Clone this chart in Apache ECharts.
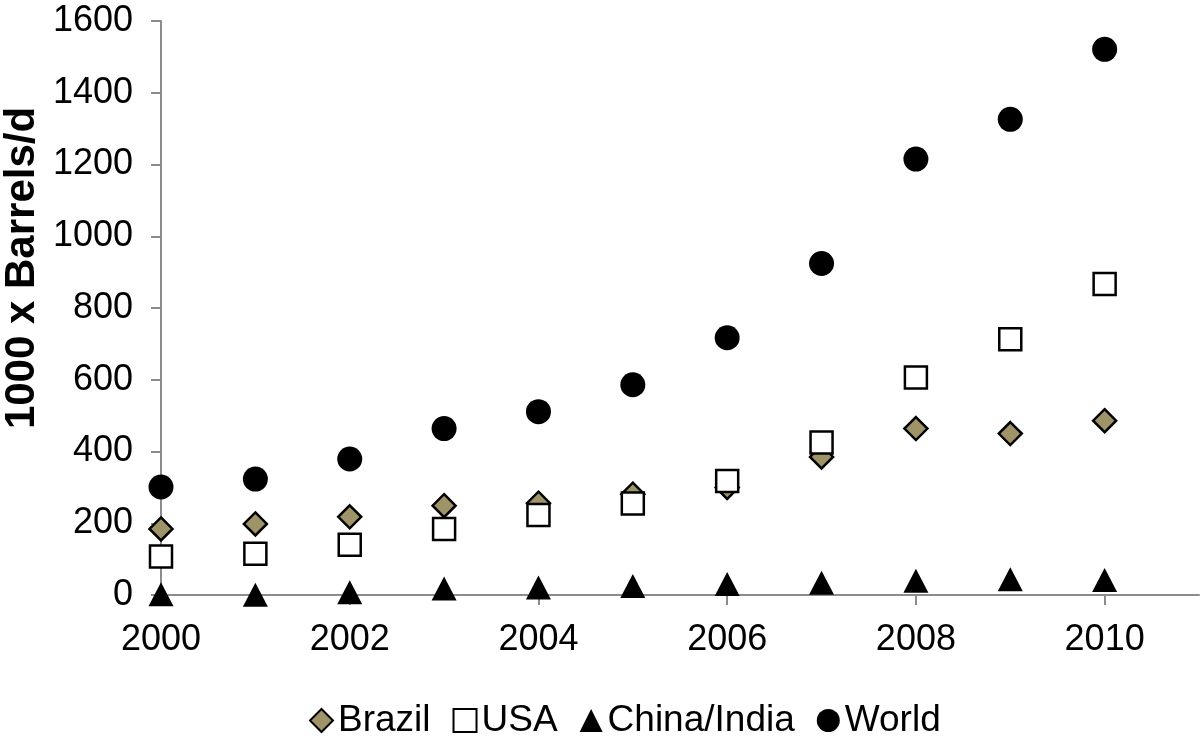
<!DOCTYPE html>
<html>
<head>
<meta charset="utf-8">
<script src="https://cdn.jsdelivr.net/npm/echarts@6/dist/echarts.min.js"></script>
<style>
html,body{margin:0;padding:0;background:#fff;}
#chart{width:1200px;height:740px;}
</style>
</head>
<body>
<div id="chart"></div>
<script>
const years = [2000, 2001, 2002, 2003, 2004, 2005, 2006, 2007, 2008, 2009, 2010];
const brazil = [184, 198, 218, 249, 256, 281, 300, 385, 464, 450, 486];
const usa = [107, 115, 140, 184, 223, 255, 318, 425, 606, 713, 867];
const chinaIndia = [2, 1, 8, 18, 21, 25, 31, 34, 40, 44, 42];
const world = [301, 323, 379, 464, 511, 586, 717, 924, 1215, 1326, 1521];
const xTicks = [2000, 2002, 2004, 2006, 2008, 2010];
const yTitle = '1000 x Barrels/d';

const FONT = '"Liberation Sans", Arial, Helvetica, sans-serif';
const pairs = arr => years.map((y, i) => [y, arr[i]]);

const chart = echarts.init(document.getElementById('chart'));
chart.setOption({
  animation: false,
  backgroundColor: '#ffffff',
  textStyle: { fontFamily: FONT },
  grid: { left: 161, right: 1, top: 21, bottom: 145, containLabel: false },
  xAxis: {
    type: 'value', min: 2000, max: 2011, interval: 1,
    axisLine: { show: true, lineStyle: { color: '#8c8c8c', width: 2 } },
    axisTick: { show: true, length: 10, customValues: xTicks, lineStyle: { color: '#8c8c8c', width: 2 } },
    axisLabel: { customValues: xTicks, margin: 27, fontSize: 36, color: '#000', fontFamily: FONT,
      formatter: v => String(v) },
    splitLine: { show: false }
  },
  yAxis: {
    type: 'value', min: 0, max: 1600, interval: 200,
    axisLine: { show: true, lineStyle: { color: '#8c8c8c', width: 2 } },
    axisTick: { show: true, length: 10, lineStyle: { color: '#8c8c8c', width: 2 } },
    axisLabel: { margin: 28, fontSize: 36, color: '#000', fontFamily: FONT,
      formatter: v => String(v) },
    splitLine: { show: false }
  },
  graphic: [{
    type: 'text', x: 22, y: 268, rotation: Math.PI / 2,
    style: { text: yTitle, font: 'bold 42px ' + FONT, fill: '#000', align: 'center', verticalAlign: 'middle' }
  }],
  legend: {
    top: 697, left: 304, itemWidth: 23, itemHeight: 23, itemGap: 22,
    textStyle: { fontSize: 37, color: '#000', fontFamily: FONT },
    data: ['Brazil', 'USA', 'China/India', 'World']
  },
  series: [
    { name: 'Brazil', type: 'scatter', symbol: 'diamond', symbolSize: 23, data: pairs(brazil),
      itemStyle: { color: '#9e9467', borderColor: '#000', borderWidth: 2.5, opacity: 1 } },
    { name: 'USA', type: 'scatter', symbol: 'rect', symbolSize: 22, data: pairs(usa),
      itemStyle: { color: '#ffffff', borderColor: '#000', borderWidth: 2.5, opacity: 1 } },
    { name: 'China/India', type: 'scatter', symbol: 'triangle', symbolSize: [25, 24], data: pairs(chinaIndia),
      itemStyle: { color: '#000', opacity: 1 } },
    { name: 'World', type: 'scatter', symbol: 'circle', symbolSize: 25, data: pairs(world),
      itemStyle: { color: '#000', opacity: 1 } }
  ]
});
</script>
</body>
</html>
